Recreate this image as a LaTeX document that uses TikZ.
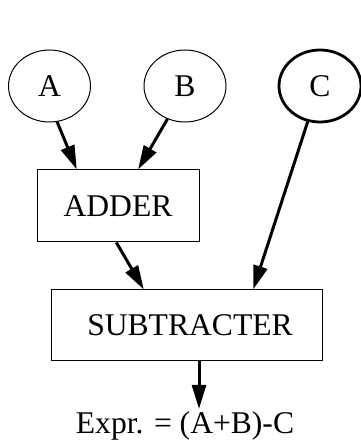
\documentclass[tikz,border=0pt]{standalone}
\usepackage{fontspec}
\setmainfont{Liberation Serif}
\usetikzlibrary{arrows.meta,shapes.geometric,calc}
\begin{document}
\begin{tikzpicture}[x=1pt,y=1pt,
  every node/.style={font=\fontsize{31.6}{36}\selectfont},
  inp/.style={draw,ellipse,line width=1pt,minimum width=82pt,minimum height=72pt,inner sep=0pt},
  inpthick/.style={inp,line width=2.8pt},
  unit/.style={draw,rectangle,line width=1pt,inner sep=0pt},
  conn/.style={line width=3pt,-{Triangle[length=24pt,width=14pt]}}]
\useasboundingbox (0,0) rectangle (360,441);
\node[inp] (A) at (49.5,355) {A};
\node[inp] (B) at (185,355) {B};
\node[inpthick] (C) at (320,355) {C};
\node[unit,minimum width=162pt,minimum height=72pt] (adder) at (118,235) {ADDER};
\node[unit,minimum width=271pt,minimum height=71pt] (sub) at (186.5,115.5) {\hspace{7pt}SUBTRACTER};
\node[anchor=base,inner sep=2pt] (expr) at (185,8) {Expr. = (A+B)-C};
\coordinate (subout) at ($(sub.south west)!0.546!(sub.south east)$);
\draw[conn] (A.-78) -- ($(adder.north west)!0.247!(adder.north east)$);
\draw[conn] (B.-118) -- ($(adder.north west)!0.623!(adder.north east)$);
\draw[conn] (C.-109) -- ($(sub.north west)!0.745!(sub.north east)$);
\draw[conn] ($(adder.south west)!0.49!(adder.south east)$) -- ($(sub.north west)!0.343!(sub.north east)$);
\draw[conn] (subout) -- (subout |- expr.north);
\end{tikzpicture}
\end{document}
